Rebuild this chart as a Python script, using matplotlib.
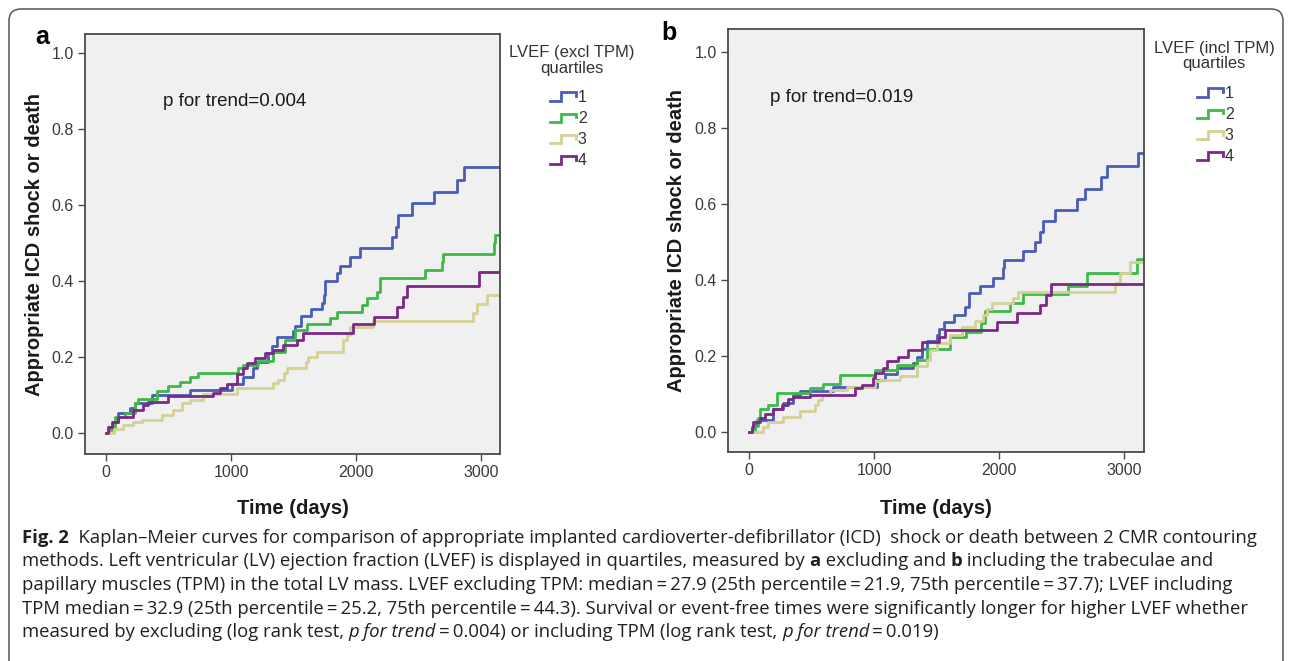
import matplotlib
matplotlib.use('Agg')
import matplotlib.pyplot as plt
from matplotlib.legend_handler import HandlerBase
from matplotlib.lines import Line2D
from matplotlib.patches import FancyBboxPatch
from matplotlib.transforms import IdentityTransform

plt.rcParams['font.family'] = ['Liberation Sans', 'DejaVu Sans']

W, H = 1290, 661

# quartile groups and colours
quartiles = ['1', '2', '3', '4']
colors = ['#4a5cb6', '#3cba48', '#d5d095', '#7a2a84']

# ---- panel a: LVEF excluding TPM (days, cumulative event) ----
a1_days = [0, 27, 59, 99, 192, 232, 365, 672, 1005, 1099, 1179, 1205, 1299, 1325, 1365, 1499, 1512, 1557,
           1637, 1725, 1740, 1752, 1845, 1872, 1952, 2032, 2285, 2320, 2339, 2445, 2624, 2805, 2867, 3150]
a1_vals = [0, .015, .03, .053, .066, .079, .10, .113, .13, .148, .17, .188, .21, .23, .253, .268, .282, .308,
           .326, .342, .363, .40, .42, .44, .463, .487, .516, .543, .574, .605, .634, .666, .70, .70]

a2_days = [0, 20, 45, 72, 152, 232, 259, 405, 499, 592, 672, 739, 1059, 1099, 1219, 1339, 1432, 1512, 1605,
           1792, 1845, 2045, 2085, 2165, 2192, 2552, 2685, 2699, 3107, 3112, 3150]
a2_vals = [0, .008, .015, .043, .053, .079, .089, .111, .124, .135, .148, .159, .17, .18, .19, .214, .245, .271,
           .287, .303, .319, .337, .355, .372, .408, .429, .451, .471, .499, .521, .521]

a3_days = [0, 60, 139, 219, 285, 445, 539, 605, 672, 779, 1045, 1339, 1379, 1420, 1450, 1600, 1619, 1691,
           1893, 1925, 1952, 2139, 2933, 2965, 3045, 3150]
a3_vals = [0, .01, .02, .03, .034, .047, .061, .078, .087, .103, .118, .131, .139, .157, .17, .188, .20, .214,
           .245, .258, .28, .295, .317, .34, .363, .363]

a4_days = [0, 19, 45, 99, 219, 299, 339, 499, 859, 912, 965, 1045, 1099, 1125, 1192, 1272, 1339, 1419, 1525,
           1573, 1979, 2147, 2325, 2373, 2411, 2984, 3150]
a4_vals = [0, .017, .03, .043, .06, .074, .083, .097, .105, .118, .13, .155, .172, .184, .197, .21, .218, .232,
           .245, .264, .287, .306, .332, .359, .387, .424, .424]

# ---- panel b: LVEF including TPM ----
b1_days = [0, 21, 35, 61, 195, 275, 355, 408, 675, 1021, 1088, 1181, 1315, 1340, 1381, 1420, 1507, 1523, 1563,
           1640, 1728, 1763, 1848, 1955, 2029, 2040, 2195, 2288, 2328, 2349, 2448, 2621, 2688, 2813, 2867, 3115, 3160]
b1_vals = [0, .008, .018, .032, .06, .076, .097, .108, .119, .137, .152, .168, .18, .198, .218, .238, .255, .271, .29,
           .308, .328, .365, .385, .406, .431, .453, .477, .50, .527, .556, .584, .612, .639, .67, .70, .735, .735]

b2_days = [0, 50, 75, 88, 155, 221, 488, 595, 728, 1008, 1181, 1341, 1420, 1608, 1736, 1853, 1888, 2088, 2195,
           2555, 2701, 3107, 3160]
b2_vals = [0, .015, .037, .06, .071, .103, .115, .126, .15, .163, .176, .189, .218, .249, .264, .286, .319, .339, .363,
           .384, .418, .454, .454]

b3_days = [0, 115, 155, 275, 408, 528, 555, 581, 648, 781, 1008, 1048, 1208, 1341, 1421, 1448, 1507, 1608, 1701,
           1808, 1875, 1901, 1941, 2115, 2155, 2928, 2968, 3048, 3160]
b3_vals = [0, .014, .027, .04, .054, .071, .084, .097, .111, .119, .133, .137, .146, .172, .19, .216, .235, .255, .275,
           .293, .308, .324, .339, .352, .369, .391, .418, .446, .446]

b4_days = [0, 21, 35, 88, 128, 195, 261, 315, 355, 488, 848, 901, 995, 1008, 1075, 1101, 1195, 1275, 1380, 1523,
           1568, 1981, 2147, 2328, 2376, 2413, 3160]
b4_vals = [0, .014, .025, .036, .048, .06, .071, .086, .093, .097, .115, .124, .141, .154, .168, .186, .198, .216, .236,
           .249, .268, .288, .312, .334, .361, .389, .389]

yticks = [0.0, 0.2, 0.4, 0.6, 0.8, 1.0]
xticks = [0, 1000, 2000, 3000]


class StepHandle(HandlerBase):
    # little step glyph as drawn by SPSS
    def create_artists(self, legend, orig_handle, xdescent, ydescent, width, height, fontsize, trans):
        x0, y0 = -xdescent, -ydescent
        xs = [x0, x0 + 0.42 * width, x0 + 0.42 * width, x0 + width, x0 + width]
        ys = [y0 + 0.1 * height, y0 + 0.1 * height, y0 + 0.85 * height, y0 + 0.85 * height, y0 + 0.5 * height]
        ln = Line2D(xs, ys, color=orig_handle.get_color(), lw=orig_handle.get_linewidth(),
                    solid_joinstyle='miter', transform=trans)
        return [ln]


def px(x, y):
    return x / W, 1 - y / H


fig = plt.figure(figsize=(W / 100, H / 100), dpi=100)
fig.patch.set_facecolor('white')

# rounded outer frame
frame = FancyBboxPatch((9, -20), 1274, H - 9 + 20, boxstyle='round,pad=0,rounding_size=12',
                       transform=IdentityTransform(), fill=False, ec='#555555', lw=1.1)
fig.add_artist(frame)


def panel(box, series, xlim, ylim, letter, letter_at, ptext, p_at, title, title_x, title_base, leg_at, xlab_y):
    l, t, r, b = box
    ax = fig.add_axes([l / W, 1 - b / H, (r - l) / W, (b - t) / H])
    ax.set_facecolor('#f0f0f0')
    handles = []
    for (days, vals), c in zip(series, colors):
        h, = ax.step(days, vals, where='post', color=c, lw=2.0)
        handles.append(h)
    ax.set_xlim(*xlim)
    ax.set_ylim(*ylim)
    ax.set_xticks(xticks)
    ax.set_yticks(yticks)
    ax.set_yticklabels(['%.1f' % v for v in yticks])
    for s in ax.spines.values():
        s.set_color('#4a4a4a')
        s.set_linewidth(1.3)
    ax.tick_params(direction='out', length=5, width=1, color='#4a4a4a', labelsize=11.5,
                   labelcolor='#3a3a3a', pad=3)
    ax.set_xlabel('Time (days)', fontsize=14.5, fontweight='bold', color='#1a1a1a')
    ax.set_ylabel('Appropriate ICD shock or death', fontsize=14.5, fontweight='bold', color='#1a1a1a')
    ax.xaxis.set_label_coords(0.5, xlab_y)
    ax.yaxis.set_label_coords(-0.10, 0.5)

    fig.text(*px(*letter_at), letter, fontsize=18, fontweight='bold', ha='center', va='center')
    fig.text(*px(*p_at), ptext, fontsize=13.5, ha='left', va='center', color='#1a1a1a')
    fig.text(*px(title_x, title_base), title, fontsize=12, ha='center', va='baseline', color='#333333')
    fig.text(*px(title_x, title_base + 15.4), 'quartiles', fontsize=12, ha='center', va='baseline',
             color='#333333')
    leg = fig.legend(handles, quartiles, loc='upper left', bbox_to_anchor=px(*leg_at),
                     bbox_transform=fig.transFigure, frameon=False, fontsize=11.5,
                     handler_map={Line2D: StepHandle()}, handlelength=1.65, handleheight=0.7,
                     handletextpad=0.1, labelspacing=0.38, borderpad=0, borderaxespad=0)
    for txt in leg.get_texts():
        txt.set_color('#333333')
    return ax


panel((85, 34, 500, 454),
      [(a1_days, a1_vals), (a2_days, a2_vals), (a3_days, a3_vals), (a4_days, a4_vals)],
      (-168, 3152), (-0.055, 1.05), 'a', (42, 37), 'p for trend=0.004', (163, 102),
      'LVEF (excl TPM)', 572, 57.3, (550, 90), -0.108)

panel((728, 29, 1144, 452),
      [(b1_days, b1_vals), (b2_days, b2_vals), (b3_days, b3_vals), (b4_days, b4_vals)],
      (-168, 3160), (-0.053, 1.06), 'b', (669, 33), 'p for trend=0.019', (770, 97),
      'LVEF (incl TPM)', 1214, 52.7, (1197, 86), -0.111)

# ---- caption ----
cap = fig.add_axes([0, 0, 1, 1])
cap.axis('off')
cap.set_zorder(-1)
cap_font = ['Open Sans', 'DejaVu Sans']
cap_size = 13.3
eq = '\u2009=\u2009'
caption = [
    [('Fig. 2', 'bold'), ('  Kaplan\u2013Meier curves for comparison of appropriate implanted cardioverter-defibrillator '
                          '(ICD)  shock or death between 2 CMR contouring', 'normal')],
    [('methods. Left ventricular (LV) ejection fraction (LVEF) is displayed in quartiles, measured by ', 'normal'),
     ('a', 'bold'), (' excluding and ', 'normal'), ('b', 'bold'), (' including the trabeculae and', 'normal')],
    [('papillary muscles (TPM) in the total LV mass. LVEF excluding TPM: median' + eq + '27.9 (25th percentile' + eq +
      '21.9, 75th percentile' + eq + '37.7); LVEF including', 'normal')],
    [('TPM median' + eq + '32.9 (25th percentile' + eq + '25.2, 75th percentile' + eq + '44.3). Survival or event-free '
      'times were significantly longer for higher LVEF whether', 'normal')],
    [('measured by excluding (log rank test, ', 'normal'), ('p for trend', 'italic'), (eq + '0.004) or including TPM '
      '(log rank test, ', 'normal'), ('p for trend', 'italic'), (eq + '0.019)', 'normal')],
]
line_y = [543, 566.5, 590, 613.5, 637]
for pieces, yb in zip(caption, line_y):
    prev = None
    for s, sty in pieces:
        kw = dict(fontsize=cap_size, family=cap_font, color='#231f20')
        if sty == 'bold':
            kw['fontweight'] = 'bold'
        elif sty == 'italic':
            kw['fontstyle'] = 'italic'
        if prev is None:
            prev = cap.text(*px(22, yb), s, transform=fig.transFigure, ha='left', va='baseline', **kw)
        else:
            prev = cap.annotate(s, xy=(1, 0), xycoords=prev, ha='left', va='bottom', **kw)

fig.savefig('out.png', dpi=100)
